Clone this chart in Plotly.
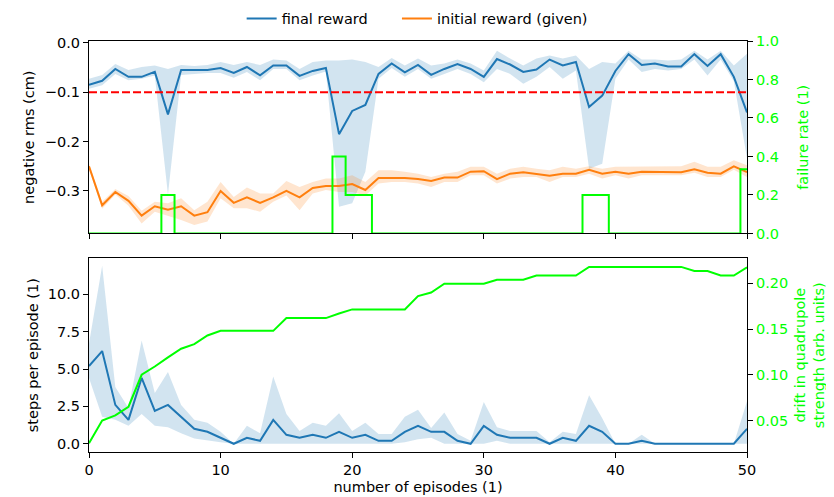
import plotly.graph_objects as go

episodes = list(range(51))

final_reward = [-0.085, -0.077, -0.053, -0.069, -0.069, -0.059, -0.145, -0.055, -0.055, -0.055,
                -0.051, -0.061, -0.049, -0.066, -0.046, -0.046, -0.067, -0.057, -0.051, -0.185,
                -0.138, -0.126, -0.063, -0.042, -0.060, -0.045, -0.065, -0.053, -0.043, -0.053,
                -0.069, -0.033, -0.044, -0.059, -0.054, -0.034, -0.046, -0.039, -0.130, -0.107,
                -0.057, -0.023, -0.045, -0.042, -0.048, -0.048, -0.023, -0.047, -0.023, -0.069,
                -0.141]
final_upper = [-0.073, -0.065, -0.043, -0.055, -0.049, -0.046, -0.053, -0.045, -0.047, -0.045,
               -0.039, -0.045, -0.039, -0.045, -0.034, -0.036, -0.053, -0.039, -0.036, -0.036,
               -0.034, -0.039, -0.049, -0.031, -0.046, -0.032, -0.046, -0.042, -0.034, -0.042,
               -0.056, -0.016, -0.032, -0.046, -0.032, -0.026, -0.032, -0.026, -0.053, -0.039,
               -0.042, -0.016, -0.034, -0.034, -0.036, -0.034, -0.016, -0.034, -0.016, -0.046,
               -0.022]
final_lower = [-0.093, -0.086, -0.063, -0.076, -0.073, -0.066, -0.307, -0.065, -0.063, -0.061,
               -0.061, -0.071, -0.059, -0.076, -0.053, -0.053, -0.076, -0.066, -0.058, -0.332,
               -0.325, -0.261, -0.073, -0.051, -0.069, -0.053, -0.073, -0.063, -0.053, -0.063,
               -0.080, -0.053, -0.063, -0.083, -0.069, -0.049, -0.073, -0.056, -0.255, -0.245,
               -0.073, -0.034, -0.059, -0.053, -0.056, -0.053, -0.034, -0.066, -0.034, -0.078,
               -0.234]

initial_reward = [-0.250, -0.329, -0.302, -0.320, -0.350, -0.331, -0.338, -0.331, -0.350, -0.343,
                  -0.300, -0.324, -0.313, -0.324, -0.313, -0.300, -0.313, -0.294, -0.290, -0.290,
                  -0.286, -0.298, -0.274, -0.274, -0.274, -0.276, -0.280, -0.273, -0.273, -0.261,
                  -0.260, -0.276, -0.265, -0.262, -0.265, -0.269, -0.265, -0.265, -0.257, -0.265,
                  -0.261, -0.265, -0.261, -0.261, -0.261, -0.262, -0.256, -0.263, -0.265, -0.250,
                  -0.262]
initial_upper = [-0.245, -0.322, -0.296, -0.310, -0.340, -0.322, -0.325, -0.315, -0.339, -0.322,
                 -0.282, -0.312, -0.293, -0.305, -0.305, -0.280, -0.292, -0.282, -0.275, -0.275,
                 -0.268, -0.282, -0.258, -0.258, -0.261, -0.265, -0.272, -0.265, -0.261, -0.251,
                 -0.251, -0.265, -0.255, -0.251, -0.255, -0.258, -0.251, -0.255, -0.250, -0.255,
                 -0.251, -0.251, -0.250, -0.250, -0.251, -0.250, -0.241, -0.251, -0.251, -0.238,
                 -0.248]
initial_lower = [-0.255, -0.336, -0.307, -0.330, -0.366, -0.342, -0.350, -0.359, -0.369, -0.362,
                 -0.315, -0.335, -0.335, -0.342, -0.322, -0.309, -0.339, -0.305, -0.298, -0.302,
                 -0.302, -0.309, -0.285, -0.282, -0.282, -0.285, -0.292, -0.282, -0.282, -0.268,
                 -0.268, -0.285, -0.275, -0.272, -0.272, -0.282, -0.272, -0.272, -0.265, -0.275,
                 -0.268, -0.275, -0.268, -0.268, -0.268, -0.268, -0.263, -0.272, -0.272, -0.257,
                 -0.272]

threshold = -0.1

failure_rate = [0, 0, 0, 0, 0, 0, 0.2, 0, 0, 0,
                0, 0, 0, 0, 0, 0, 0, 0, 0, 0.4,
                0.2, 0.2, 0, 0, 0, 0, 0, 0, 0, 0,
                0, 0, 0, 0, 0, 0, 0, 0, 0.2, 0.2,
                0, 0, 0, 0, 0, 0, 0, 0, 0, 0,
                0.333]

steps = [5.2, 6.2, 2.6, 1.6, 4.4, 2.2, 2.6, 1.8, 1.0, 0.8,
         0.4, 0.0, 0.4, 0.2, 1.6, 0.6, 0.4, 0.6, 0.4, 0.8,
         0.4, 0.6, 0.2, 0.2, 0.8, 1.2, 0.8, 0.8, 0.2, 0.0,
         1.2, 0.6, 0.4, 0.4, 0.4, 0.0, 0.4, 0.2, 1.2, 0.8,
         0.0, 0.0, 0.2, 0.0, 0.0, 0.0, 0.0, 0.0, 0.0, 0.0,
         1.0]
steps_upper = [6.7, 11.9, 3.8, 2.4, 6.9, 3.4, 4.8, 2.6, 1.6, 1.4,
               0.8, 0.0, 1.2, 0.7, 4.5, 2.0, 0.85, 1.4, 1.2, 2.05,
               0.85, 1.4, 0.65, 0.65, 1.8, 2.27, 1.05, 2.1, 0.65, 0.2,
               2.8, 1.1, 0.85, 0.85, 0.85, 0.1, 0.8, 0.65, 3.25, 1.7,
               0.0, 0.0, 0.6, 0.0, 0.0, 0.0, 0.0, 0.0, 0.0, 0.0,
               2.85]
steps_lower = [4.4, 1.8, 1.6, 1.2, 2.0, 1.2, 1.1, 0.7, 0.35, 0.25,
               0.1, 0.0, 0.0, 0.0, 0.0, 0.0, 0.0, 0.0, 0.0, 0.0,
               0.0, 0.0, 0.0, 0.0, 0.1, 0.3, 0.4, 0.0, 0.0, 0.0,
               0.0, 0.2, 0.0, 0.0, 0.0, 0.0, 0.0, 0.0, 0.0, 0.0,
               0.0, 0.0, 0.0, 0.0, 0.0, 0.0, 0.0, 0.0, 0.0, 0.0,
               0.0]

drift = [0.025, 0.050, 0.0555, 0.065, 0.100, 0.109, 0.119, 0.1285, 0.1335, 0.143,
         0.148, 0.148, 0.148, 0.148, 0.148, 0.162, 0.162, 0.162, 0.162, 0.167,
         0.1715, 0.1715, 0.1715, 0.1715, 0.1715, 0.186, 0.190, 0.1995, 0.1995, 0.1995,
         0.1995, 0.204, 0.204, 0.204, 0.2085, 0.2085, 0.2085, 0.2085, 0.218, 0.218,
         0.218, 0.218, 0.218, 0.218, 0.218, 0.218, 0.2135, 0.2135, 0.2085, 0.2085,
         0.2175]

BLUE = "#1f77b4"
ORANGE = "#ff7f0e"
GREEN = "#00ff00"
FONT = "DejaVu Sans"
FS = 14.5


def band(x, up, lo, color, xa, ya):
    return go.Scatter(x=list(x) + list(x)[::-1], y=list(up) + list(lo)[::-1],
                      fill="toself", fillcolor=color, line=dict(width=0),
                      mode="lines", showlegend=False, hoverinfo="skip",
                      xaxis=xa, yaxis=ya)


fig = go.Figure()
fig.add_trace(band(episodes, final_upper, final_lower, "rgba(31,119,180,0.2)", "x", "y"))
fig.add_trace(go.Scatter(x=episodes, y=final_reward, mode="lines", name="final reward",
                         line=dict(color=BLUE, width=2), xaxis="x", yaxis="y",
                         legend="legend"))
fig.add_trace(band(episodes, initial_upper, initial_lower, "rgba(255,127,14,0.2)", "x", "y"))
fig.add_trace(go.Scatter(x=episodes, y=initial_reward, mode="lines", name="initial reward (given)",
                         line=dict(color=ORANGE, width=2), xaxis="x", yaxis="y",
                         legend="legend2"))
fig.add_trace(go.Scatter(x=[episodes[0], episodes[-1]], y=[threshold, threshold], mode="lines",
                         showlegend=False, line=dict(color="#ff0000", width=2, dash="8px,3px"),
                         xaxis="x", yaxis="y"))
fig.add_trace(go.Scatter(x=episodes, y=failure_rate, mode="lines", line_shape="hvh",
                         showlegend=False, line=dict(color=GREEN, width=2), xaxis="x", yaxis="y2"))

fig.add_trace(band(episodes, steps_upper, steps_lower, "rgba(31,119,180,0.2)", "x2", "y3"))
fig.add_trace(go.Scatter(x=episodes, y=steps, mode="lines", showlegend=False,
                         line=dict(color=BLUE, width=2), xaxis="x2", yaxis="y3"))
fig.add_trace(go.Scatter(x=episodes, y=drift, mode="lines", showlegend=False,
                         line=dict(color=GREEN, width=2), xaxis="x2", yaxis="y4"))

axis_common = dict(showline=True, linecolor="black", linewidth=1.1, ticks="outside",
                   ticklen=5, tickwidth=1.1, tickcolor="black", showgrid=False,
                   zeroline=False, automargin=False)
black_font = dict(family=FONT, size=FS, color="black")
green_font = dict(family=FONT, size=FS, color=GREEN)
legend_common = dict(orientation="h", y=1.0546, yanchor="middle", xanchor="left",
                     font=dict(family=FONT, size=FS), bgcolor="rgba(0,0,0,0)")

fig.update_layout(
    width=834, height=497,
    margin=dict(l=81, r=94.7, t=32.5, b=52.7, autoexpand=False),
    paper_bgcolor="white", plot_bgcolor="white",
    font=dict(family=FONT, size=FS, color="black"),
    showlegend=True,
    legend=dict(**legend_common, x=0.232),
    legend2=dict(**legend_common, x=0.468),
    xaxis=dict(**axis_common, tickfont=black_font, domain=[0, 1], anchor="y", range=[0, 50],
               tickvals=[0, 10, 20, 30, 40, 50], showticklabels=False, mirror=True),
    yaxis=dict(**axis_common, tickfont=black_font, domain=[0.5318, 1], anchor="x",
               range=[-0.386, 0.0036], tickvals=[0, -0.1, -0.2, -0.3], tickformat=".1f",
               title=dict(text="negative rms (cm)", standoff=6, font=black_font)),
    yaxis2=dict(**axis_common, tickfont=green_font, overlaying="y", side="right", anchor="x",
                range=[0, 1.0], tickvals=[0, 0.2, 0.4, 0.6, 0.8, 1.0], tickformat=".1f",
                title=dict(text="failure rate (1)", standoff=19, font=green_font)),
    xaxis2=dict(**axis_common, tickfont=black_font, domain=[0, 1], anchor="y3", range=[0, 50],
                tickvals=[0, 10, 20, 30, 40, 50], mirror=True,
                title=dict(text="number of episodes (1)", standoff=4, font=black_font)),
    yaxis3=dict(**axis_common, tickfont=black_font, domain=[0, 0.4711], anchor="x2",
                range=[-0.55, 12.4], tickvals=[0, 2.5, 5, 7.5, 10], tickformat=".1f",
                title=dict(text="steps per episode (1)", standoff=5, font=black_font)),
    yaxis4=dict(**axis_common, tickfont=green_font, overlaying="y3", side="right", anchor="x2",
                range=[0.0155, 0.2273], tickvals=[0.05, 0.10, 0.15, 0.20], tickformat=".2f",
                title=dict(text="drift in quadrupole<br>strength (arb. units)", standoff=7,
                           font=green_font)),
)

fig.write_html("out.html")
